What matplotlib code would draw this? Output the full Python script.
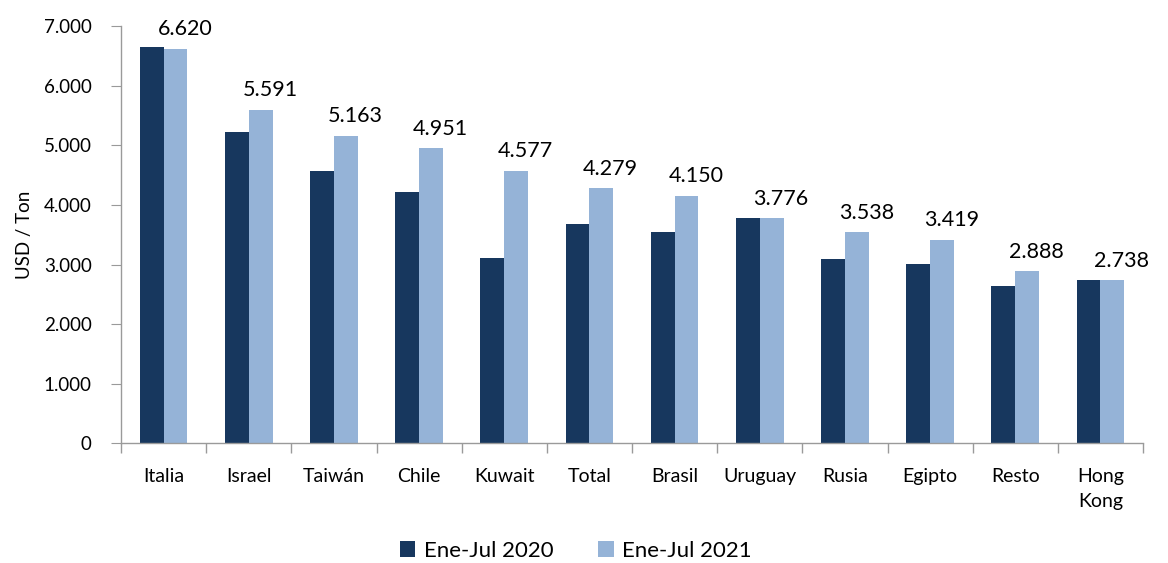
import matplotlib
matplotlib.use("Agg")
import matplotlib.pyplot as plt
import numpy as np
from matplotlib.ticker import FuncFormatter

categories = ["Italia", "Israel", "Taiwán", "Chile", "Kuwait", "Total",
              "Brasil", "Uruguay", "Rusia", "Egipto", "Resto", "Hong\nKong"]
ene_jul_2020 = [6640, 5220, 4575, 4210, 3110, 3680, 3550, 3780, 3100, 3010, 2640, 2740]
ene_jul_2021 = [6620, 5591, 5163, 4951, 4577, 4279, 4150, 3776, 3538, 3419, 2888, 2738]
labels_2021 = ["6.620", "5.591", "5.163", "4.951", "4.577", "4.279",
               "4.150", "3.776", "3.538", "3.419", "2.888", "2.738"]
series_names = ["Ene-Jul 2020", "Ene-Jul 2021"]

dark = "#17375E"
light = "#95B3D7"
axis_gray = "#9A9A9A"

plt.rcParams['font.family'] = ['Lato', 'DejaVu Sans']

fig = plt.figure(figsize=(11.68, 5.63), dpi=100)
ax = fig.add_axes([0.1036, 0.2123, 0.875, 0.7415])

x = np.arange(len(categories))
w = 0.28
ax.bar(x - w / 2, ene_jul_2020, w, color=dark, label=series_names[0])
b2 = ax.bar(x + w / 2, ene_jul_2021, w, color=light, label=series_names[1])

for rect, txt in zip(b2, labels_2021):
    ax.text(rect.get_x() + rect.get_width() / 2 + 0.11, rect.get_height() + 160, txt,
            ha="center", va="bottom", fontsize=15.5, color="black")

ax.set_xlim(-0.5, len(categories) - 0.5)
ax.set_ylim(0, 7000)
ax.set_yticks(range(0, 7001, 1000))
ax.yaxis.set_major_formatter(FuncFormatter(lambda v, p: f"{int(v):,}".replace(",", ".")))
ax.set_xticks(x)
for lbl in ax.set_xticklabels(categories, fontsize=14):
    lbl.set_linespacing(1.55)
ax.set_xticks(np.arange(-0.5, len(categories)), minor=True)
ax.tick_params(axis="x", which="major", length=0, pad=18)
ax.tick_params(axis="x", which="minor", length=7, color=axis_gray, width=1)
ax.tick_params(axis="y", length=7, color=axis_gray, labelsize=13.5, pad=14)
ax.set_ylabel("USD / Ton", fontsize=13.5, labelpad=8)

for s in ["top", "right"]:
    ax.spines[s].set_visible(False)
for s in ["left", "bottom"]:
    ax.spines[s].set_color(axis_gray)
    ax.spines[s].set_linewidth(1)

fig.legend(loc="lower center", bbox_to_anchor=(0.493, -0.032), ncol=2, frameon=False,
           fontsize=16, handlelength=0.7, handleheight=0.7, columnspacing=2.0,
           handletextpad=0.4)

fig.savefig("out.png", dpi=100)
